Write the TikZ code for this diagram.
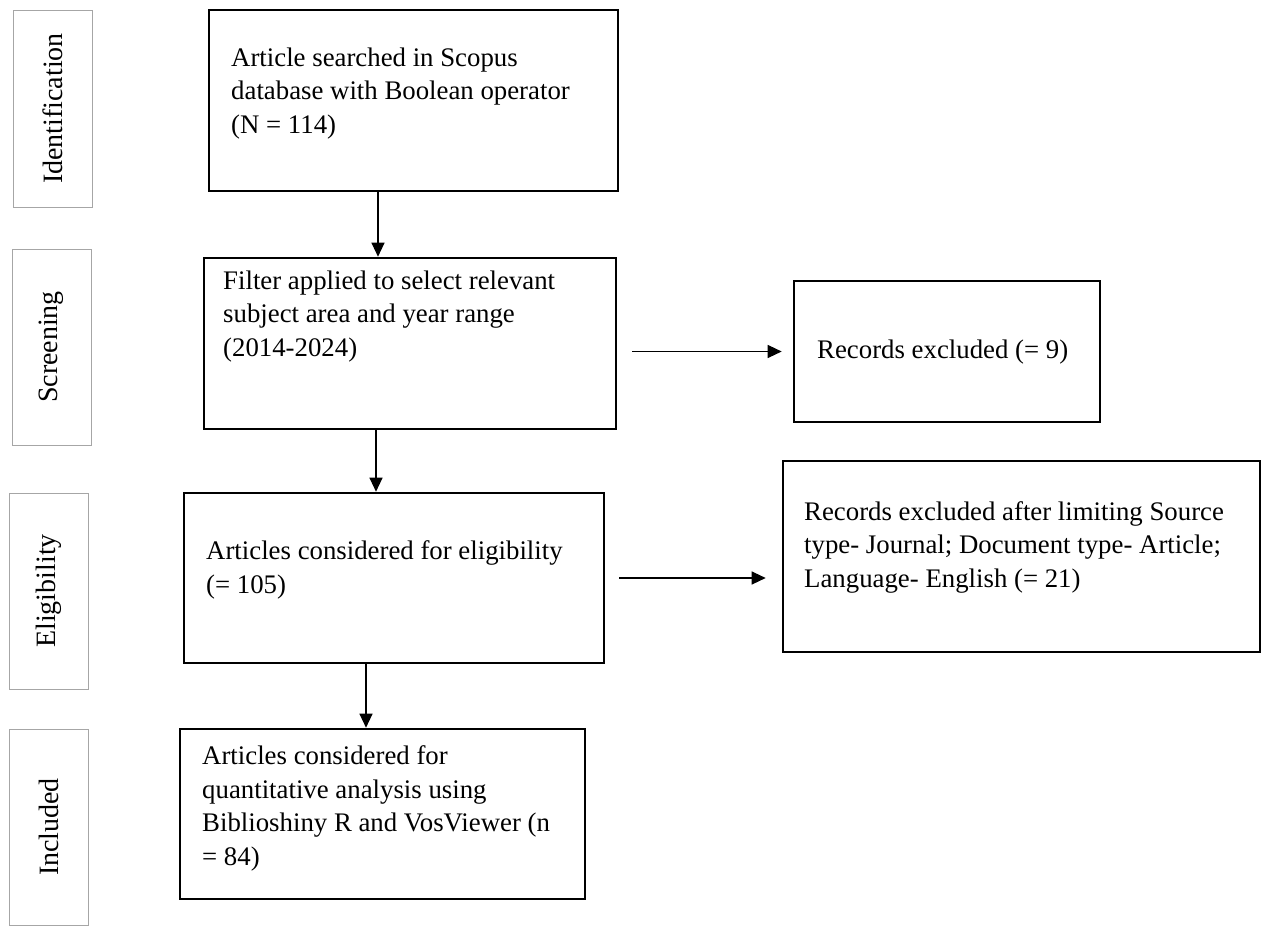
\documentclass[tikz,border=0pt]{standalone}
\usepackage{fontspec}
\setmainfont{Liberation Serif}
\usetikzlibrary{arrows.meta}
\tikzset{
  stage/.style={draw=black!35, line width=1pt, inner sep=0pt},
  mainbox/.style={draw=black, line width=2.6pt, inner sep=0pt},
  boxtext/.style={anchor=base west, inner sep=0pt, align=left, font=\fontsize{26.8}{33.5}\selectfont},
  stagetext/.style={rotate=90, inner sep=0pt, font=\fontsize{28}{33}\selectfont},
  arr/.style={line width=1.2pt, -{Triangle[length=14pt,width=13pt]}}
}
\begin{document}
\begin{tikzpicture}[x=1pt,y=-1pt]
\useasboundingbox (0,0) rectangle (1285,926);
% stage label boxes
\node[stage, minimum width=79pt, minimum height=197pt] (s1) at (52.5,108.5) {};
\node[stagetext] at (s1.center) {Identification};
\node[stage, minimum width=79pt, minimum height=196pt] (s2) at (51.5,347) {};
\node[stagetext] at (s2.center) {Screening};
\node[stage, minimum width=79pt, minimum height=196pt] (s3) at (48.5,591) {};
\node[stagetext] at (s3.center) {Eligibility};
\node[stage, minimum width=79pt, minimum height=196pt] (s4) at (48.5,827) {};
\node[stagetext] at (s4.center) {Included};
% main boxes
\node[mainbox, minimum width=409pt, minimum height=181pt] (b1) at (413.5,100.5) {};
\node[boxtext] (t1) at (231,133) {Article searched in Scopus\\database with Boolean operator\\(N = 114)};
\node[mainbox, minimum width=412pt, minimum height=171pt] (b2) at (410,343.5) {};
\node[boxtext] (t2) at (223,356) {Filter applied to select relevant\\subject area and year range\\(2014-2024)};
\node[mainbox, minimum width=420pt, minimum height=170pt] (b3) at (394,578) {};
\node[boxtext] (t3) at (206,593) {Articles considered for eligibility\\(= 105)};
\node[mainbox, minimum width=405pt, minimum height=170pt] (b4) at (382.5,814) {};
\node[boxtext] (t4) at (202,865) {Articles considered for\\quantitative analysis using\\Biblioshiny R and VosViewer (n\\= 84)};
\node[mainbox, minimum width=306pt, minimum height=141pt] (r1) at (947,351.5) {};
\node[boxtext] (u1) at (817,358) {Records excluded (= 9)};
\node[mainbox, minimum width=477pt, minimum height=191pt] (r2) at (1021.5,556.5) {};
\node[boxtext] (u2) at (804,587) {Records excluded after limiting Source\\type- Journal; Document type- Article;\\Language- English (= 21)};
% connectors
\draw[arr] ([xshift=-35.5pt]b1.south) -- ([xshift=-35.5pt]b1.south |- b2.north);
\draw[arr] ([xshift=-34pt]b2.south) -- ([xshift=-34pt]b2.south |- b3.north);
\draw[arr] ([xshift=-28pt]b3.south) -- ([xshift=-28pt]b3.south |- b4.north);
\draw[arr, shorten <=15pt, shorten >=11pt] (b2.east |- r1.west) -- (r1.west);
\draw[arr, shorten <=14pt, shorten >=16pt] (b3.east) -- (b3.east -| r2.west);
\end{tikzpicture}
\end{document}
